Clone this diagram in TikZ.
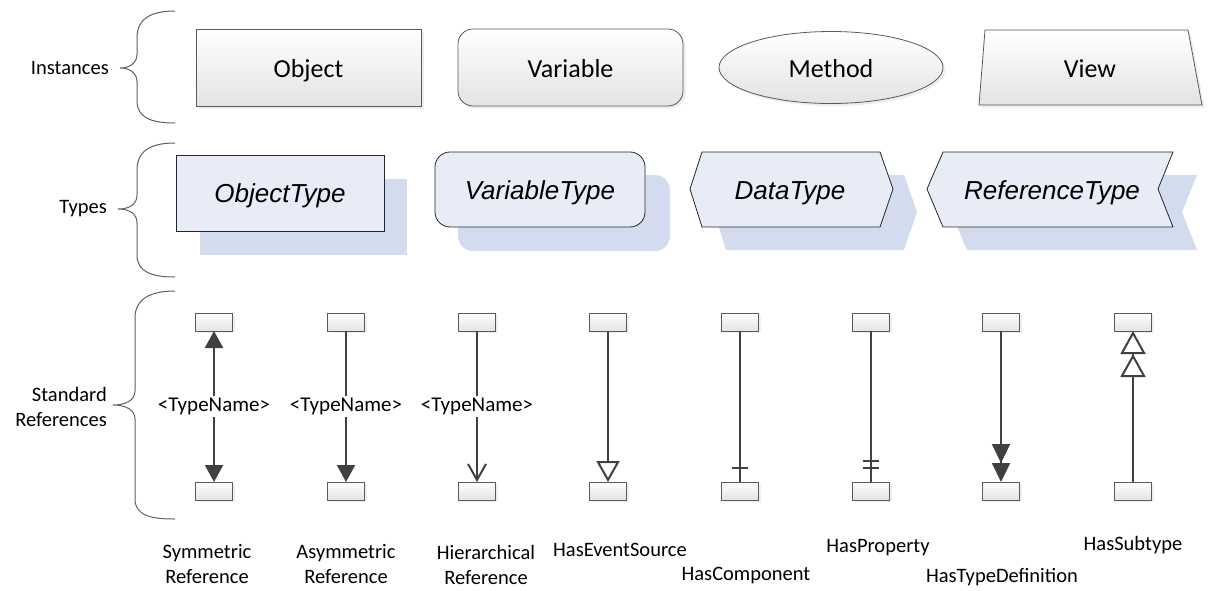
\documentclass[tikz,border=0pt]{standalone}
\usepackage{fontspec}
\setmainfont{Carlito}
\newfontfamily\typefont{Liberation Sans}
\usetikzlibrary{arrows.meta,shapes.geometric,shadows,calc}
\definecolor{lineC}{HTML}{404040}
\definecolor{edgeC}{HTML}{5A5A5A}
\definecolor{typeF}{HTML}{E7ECF7}
\definecolor{typeS}{HTML}{D2DCEE}
\definecolor{braceC}{HTML}{606060}
\begin{document}
\begin{tikzpicture}[x=1pt,y=-1pt,
  inst/.style={draw=edgeC, line width=0.8pt, top color=white, bottom color=black!11,
    drop shadow={shadow xshift=2.5pt, shadow yshift=-2.5pt, fill=black!14}},
  itxt/.style={font=\fontsize{26}{30}\selectfont, inner sep=0pt, text height=21pt, text depth=2pt},
  ttxt/.style={font=\typefont\itshape\fontsize{26}{30}\selectfont, inner sep=0pt, text height=21pt, text depth=3pt},
  tshape/.style={fill=typeF, draw=black!85, line width=0.8pt},
  tshadow/.style={fill=typeS},
  sbox/.style={rectangle, minimum width=37, minimum height=18, inner sep=0pt, outer sep=0pt,
    draw=edgeC, line width=0.8pt, top color=white, bottom color=black!11,
    drop shadow={shadow xshift=2pt, shadow yshift=-2pt, fill=black!12}},
  conn/.style={draw=lineC, line width=2.2pt},
  lbl/.style={fill=white, inner sep=2pt, font=\fontsize{21}{25}\selectfont},
  side/.style={font=\fontsize{20.5}{25}\selectfont, align=right, anchor=east, inner sep=0pt},
  bot/.style={font=\fontsize{20.5}{25}\selectfont, align=center, inner sep=0pt},
  brace/.style={draw=braceC, line width=1pt},
]
\useasboundingbox (0,0) rectangle (1209,590);

% ---------- braces ----------
\draw[brace] (175,11) .. controls (152,11) and (137,18) .. (137,38) -- (137,54)
  .. controls (137,63) and (130,68) .. (120,68)
  .. controls (130,68) and (137,73) .. (137,82) -- (137,101)
  .. controls (137,118) and (152,123) .. (175,123);
\draw[brace] (175,143) .. controls (152,143) and (137,150) .. (137,170) -- (137,195)
  .. controls (137,204) and (130,209) .. (118,209)
  .. controls (130,209) and (137,214) .. (137,223) -- (137,255)
  .. controls (137,272) and (152,277) .. (175,277);
\draw[brace] (175,291) .. controls (152,291) and (135,298) .. (135,318) -- (135,391)
  .. controls (135,400) and (126,405) .. (113,405)
  .. controls (126,405) and (135,410) .. (135,419) -- (135,499)
  .. controls (135,516) and (152,519) .. (175,519);

\node[side] (lInst) at (109,68) {Instances};
\node[side] (lTypes) at (107,209) {Types};
\node[side] (lStd) at (107,407) {Standard\\References};

% ---------- instances ----------
\node[inst, rectangle, minimum width=225, minimum height=77, inner sep=0pt, outer sep=0pt, itxt] (obj) at (308.5,67.5) {Object};
\node[inst, rectangle, rounded corners=15pt, minimum width=225, minimum height=77, inner sep=0pt, outer sep=0pt, itxt] (var) at (570.5,67.5) {Variable};
\node[inst, ellipse, minimum width=224, minimum height=72, inner sep=0pt, outer sep=0pt, itxt] (meth) at (831,67.5) {Method};
\path[inst] (985,30) -- (1188,30) -- (1202,105) -- (979,105) -- cycle;
\node[itxt] (view) at (1090,67.5) {View};

% ---------- types ----------
\fill[tshadow] (200,179) rectangle (407,255);
\draw[tshape] (176,155) rectangle (384,231);
\node[ttxt] (otype) at (280,193) {ObjectType};

\fill[tshadow, rounded corners=15pt] (458,175) rectangle (670,251);
\draw[tshape, rounded corners=15pt] (435,152) rectangle (645,227);
\node[ttxt] (vtype) at (540,190) {VariableType};

\fill[tshadow] (714,212) -- (726,175) -- (904,175) -- (917,212) -- (904,250) -- (726,250) -- cycle;
\draw[tshape] (690,189) -- (702,152) -- (880,152) -- (893,189) -- (880,227) -- (702,227) -- cycle;
\node[ttxt] (dtype) at (790,190) {DataType};

\fill[tshadow] (951,212) -- (967,175) -- (1197,175) -- (1182,212) -- (1197,250) -- (967,250) -- cycle;
\draw[tshape] (927,189) -- (943,152) -- (1173,152) -- (1158,189) -- (1173,227) -- (943,227) -- cycle;
\node[ttxt] (rtype) at (1052,190) {ReferenceType};

% ---------- standard references ----------
\foreach \i/\x in {1/214,2/346,3/477,4/608,5/740,6/871,7/1001,8/1133}{
  \node[sbox] (t\i) at (\x,322) {};
  \node[sbox] (b\i) at (\x,491) {};
}
\draw[conn, {Triangle[length=17pt,width=18pt]}-{Triangle[length=17pt,width=18pt]}]
  (t1) -- node[lbl] (n1) {<TypeName>} (b1);
\draw[conn, -{Triangle[length=17pt,width=18pt]}]
  (t2) -- node[lbl] (n2) {<TypeName>} (b2);
\draw[conn, -{Straight Barb[length=16pt,width=18pt,line width=2pt]}]
  (t3) -- node[lbl] (n3) {<TypeName>} (b3);
\draw[conn, -{Triangle[open,length=21pt,width=23pt,line width=2pt,fill=white]}] (t4) -- (b4);
\draw[conn] (t5) -- (b5);
\draw[conn] ($(b5.north)+(-8,-14)$) -- ($(b5.north)+(8,-14)$);
\draw[conn] (t6) -- (b6);
\draw[conn] ($(b6.north)+(-8,-14)$) -- ($(b6.north)+(8,-14)$);
\draw[conn] ($(b6.north)+(-8,-21)$) -- ($(b6.north)+(8,-21)$);
\draw[conn, -{Triangle[length=19pt,width=18pt] Triangle[length=19pt,width=18pt]}] (t7) -- (b7);
\draw[conn, {Triangle[open,length=23pt,width=25pt,line width=2pt,fill=white] Triangle[open,length=23pt,width=25pt,line width=2pt,fill=white]}-] (t8) -- (b8);

% ---------- bottom labels ----------
\node[bot] (s1) at (207,564.5) {Symmetric\\Reference};
\node[bot] (s2) at (346,564.5) {Asymmetric\\Reference};
\node[bot] (s3) at (486,564.5) {Hierarchical\\Reference};
\node[bot] (s4) at (620,550) {HasEventSource};
\node[bot] (s5) at (746,575) {HasComponent};
\node[bot] (s6) at (878,548) {HasProperty};
\node[bot] (s7) at (1002,577) {HasTypeDefinition};
\node[bot] (s8) at (1133,545) {HasSubtype};
\end{tikzpicture}
\end{document}
